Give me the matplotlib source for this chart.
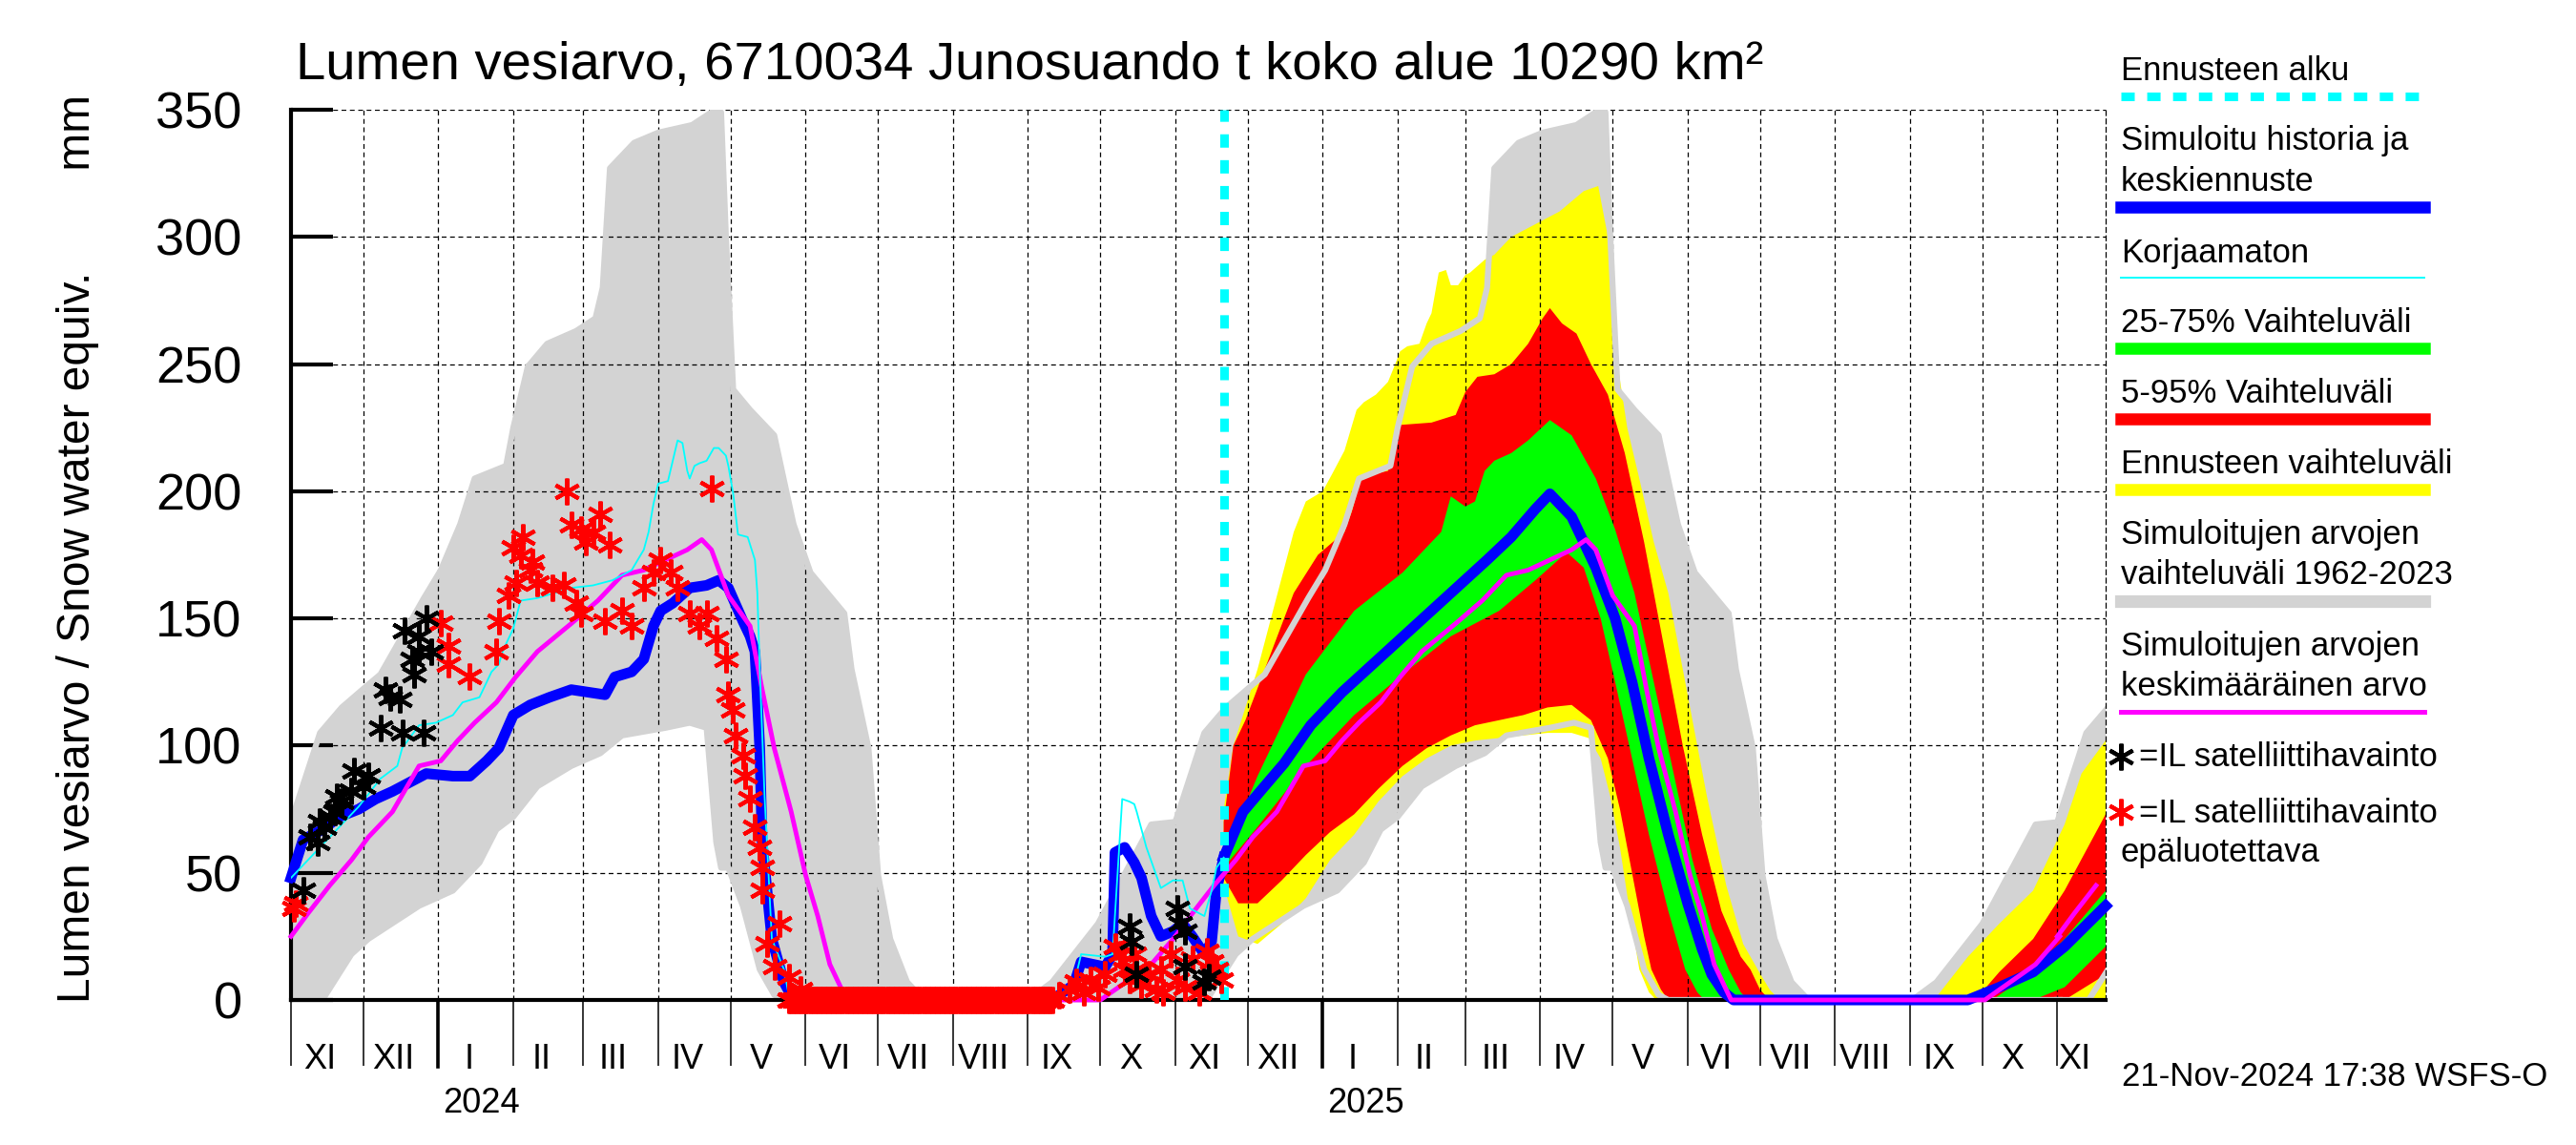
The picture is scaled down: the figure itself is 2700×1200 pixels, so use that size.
import matplotlib
matplotlib.use('Agg')
import matplotlib.pyplot as plt
import matplotlib.transforms as mtransforms
from matplotlib.lines import Line2D
import numpy as np
import pandas as pd

plt.rcParams['font.family'] = ['Liberation Sans', 'DejaVu Sans']

# all x values are days counted from 1 Nov 2023
BASE = pd.Timestamp('2023-11-01')
FC_DAY = 386          # 21 Nov 2024, forecast start
END_DAY = 751         # 21 Nov 2025

# --- climatology 1962-2023 (one season, day of season from 1 Nov) ---
clim_hi_day = [0, 12, 21, 32, 37, 55, 62, 70, 76, 89, 92, 98, 106, 118, 126, 129, 132, 142, 152,
               166, 174, 178, 180, 183, 190, 200, 205, 208, 215, 229, 232, 239, 243, 248, 255, 262,
               305, 315, 334, 356, 366]
clim_hi = [70, 105, 115, 124, 128, 158, 169, 187, 205, 210, 225, 249, 258, 263, 268, 280, 327, 337, 341,
           344, 349, 349, 300, 240, 232, 222, 200, 187, 168, 152, 130, 99, 49, 24, 7, 0,
           0, 7, 30, 69, 70]
clim_lo_day = [0, 13, 25, 32, 53, 67, 78, 85, 92, 102, 116, 128, 137, 155, 165, 172, 176, 178, 181,
               187, 194, 200, 204, 366]
clim_lo = [0, 0, 18, 24, 37, 43, 54, 67, 72, 84, 92, 97, 104, 107, 109, 107, 62, 52, 52,
           37, 12, 2, 0, 0]
mean_day = [0, 7, 16, 25, 32, 42, 53, 62, 69, 76, 85, 93, 102, 116, 127, 137, 146, 155, 164, 170,
            174, 181, 190, 195, 200, 207, 213, 218, 223, 227, 230, 335, 344, 356, 366]
mean_val = [25, 34, 45, 55, 64, 74, 92, 94, 102, 109, 117, 127, 137, 148, 157, 167, 169, 173, 177, 181,
            177, 159, 147, 122, 99, 74, 49, 33, 14, 6, 0, 0, 6, 14, 25]

# --- simulated history (blue) and uncorrected (cyan) ---
blue_day = [0, 5, 13, 20, 28, 35, 42, 50, 56, 67, 74, 81, 86, 92, 99, 107, 116, 130, 134, 141, 146,
            150, 153, 158, 165, 172, 177, 181, 187, 190, 192, 194, 195, 199, 204, 208,
            315, 324, 327, 337, 340, 341, 345, 349, 352, 356, 360, 365, 369, 373, 378, 381, 383, 386]
blue_val = [48, 63, 67, 72, 75, 79, 82, 86, 89, 88, 88, 94, 99, 112, 116, 119, 122, 120, 127, 129, 134,
            147, 153, 156, 162, 163, 165, 162, 149, 143, 137, 99, 62, 24, 7, 0,
            0, 6, 15, 13, 18, 58, 60, 54, 48, 33, 25, 27, 30, 25, 18, 23, 43, 56]
cyan_day = [0, 28, 37, 44, 46, 53, 60, 67, 71, 78, 83, 86, 88, 92, 95, 102, 109, 116, 125, 133, 141,
            146, 148, 150, 152, 156, 158, 160, 162, 164, 165, 167, 169, 172, 175, 177, 180, 181, 183,
            185, 189, 192, 193, 194, 196, 199, 204, 206, 208,
            315, 324, 327, 337, 340, 344, 347, 349, 350, 354, 357, 360, 365, 369, 372, 378, 381, 383, 386]
cyan_val = [48, 76, 87, 92, 99, 108, 109, 112, 117, 119, 129, 132, 138, 146, 157, 158, 160, 162, 163, 165, 169,
            177, 184, 195, 203, 204, 212, 220, 219, 208, 205, 210, 211, 212, 217, 217, 214, 210, 199,
            183, 182, 173, 160, 130, 80, 24, 12, 2, 0,
            0, 6, 18, 17, 18, 79, 78, 77, 74, 60, 52, 44, 47, 47, 36, 33, 43, 52, 56]

# --- forecast (from 21 Nov 2024) ---
fc_blue_day = [386, 394, 402, 411, 422, 435, 450, 465, 480, 495, 505, 515, 521, 530, 540, 548, 555,
               562, 570, 578, 584, 588, 593, 597, 694, 707, 721, 734, 751]
fc_blue = [56, 74, 83, 93, 108, 121, 134, 147, 160, 173, 182, 193, 199, 190, 170, 150, 125,
           95, 65, 38, 20, 10, 3, 0, 0, 5, 11, 21, 37]
yel_hi_day = [386, 390, 395, 400, 405, 410, 415, 420, 427, 431, 436, 441, 444, 449, 454, 457, 459, 462,
              467, 470, 472, 475, 478, 480, 483, 486, 488, 494, 498, 505, 515, 525, 535, 541, 545, 549,
              553, 558, 564, 570, 578, 586, 594, 601, 607, 612, 616, 680, 694, 707, 721, 734, 741, 751]
yel_hi = [75, 100, 115, 130, 148, 166, 184, 196, 200, 207, 216, 232, 235, 238, 243, 250, 255, 257,
          258, 266, 270, 286, 287, 281, 281, 285, 286, 291, 293, 300, 305, 310, 318, 320, 300, 250,
          225, 205, 180, 160, 120, 80, 45, 22, 12, 4, 0, 0, 17, 30, 43, 69, 89, 102]
yel_lo_day = [386, 392, 400, 410, 420, 430, 440, 450, 460, 470, 480, 490, 500, 510, 520, 530, 537,
              542, 546, 550, 554, 558, 562, 565, 751]
yel_lo = [45, 25, 22, 30, 40, 55, 65, 78, 88, 95, 100, 102, 103, 104, 105, 105, 103,
          95, 80, 60, 35, 12, 3, 0, 0]
red_hi_day = [386, 390, 395, 405, 415, 425, 436, 439, 443, 449, 454, 456, 458, 472, 482, 486, 491, 498,
              505, 512, 518, 521, 526, 532, 538, 545, 552, 560, 568, 576, 584, 592, 600, 604, 608, 612,
              697, 707, 721, 734, 751]
red_hi = [70, 100, 110, 135, 160, 175, 184, 192, 206, 207, 208, 220, 226, 227, 230, 239, 245, 246,
          250, 258, 268, 272, 266, 262, 250, 238, 215, 180, 140, 100, 65, 35, 17, 12, 4, 0,
          0, 11, 24, 43, 73]
red_lo_day = [386, 392, 400, 410, 420, 430, 440, 450, 460, 470, 480, 490, 500, 510, 520, 530, 538,
              545, 550, 555, 560, 563, 567, 570, 734, 751]
red_lo = [48, 38, 38, 47, 57, 66, 73, 83, 92, 99, 104, 108, 110, 112, 115, 116, 110,
          95, 75, 50, 25, 12, 4, 0, 0, 10]
grn_hi_day = [386, 400, 420, 440, 460, 476, 480, 486, 490, 494, 498, 505, 512, 521, 530, 540, 548,
              556, 564, 572, 580, 588, 595, 600, 603, 704, 721, 734, 751]
grn_hi = [56, 88, 128, 153, 168, 184, 198, 194, 196, 208, 212, 215, 220, 228, 222, 205, 185,
          160, 125, 90, 55, 28, 12, 3, 0, 0, 11, 24, 43]
grn_lo_day = [386, 400, 420, 440, 460, 480, 500, 515, 528, 535, 542, 548, 555, 562, 570, 577, 582,
              585, 721, 734, 751]
grn_lo = [52, 68, 92, 112, 128, 143, 153, 165, 176, 170, 150, 125, 95, 65, 35, 12, 3,
          0, 0, 5, 21]

# --- satellite observations ---
obs_day = [5, 8, 11, 12, 14, 16, 18, 19, 21, 25, 26, 30, 32, 37, 39, 41, 45, 46, 47, 50, 51, 53, 53,
           55, 56, 58, 347, 348, 350, 367, 368, 370, 370, 378, 380]
obs_val = [43, 64, 62, 70, 68, 72, 74, 80, 78, 82, 90, 84, 88, 107, 122, 119, 118, 105, 145, 134, 128,
           137, 143, 105, 150, 137, 29, 23, 10, 36, 30, 27, 13, 7, 9]
bad_day = [1, 2, 62, 65, 65, 74, 85, 86, 90, 92, 93, 95, 96, 99, 100, 102, 108, 113, 114, 116, 118,
           120, 120, 122, 125, 128, 130, 132, 137, 141, 146, 150, 153, 157, 160, 165, 169, 172, 174,
           176, 180, 181, 183, 184, 187, 188, 190, 192, 194, 195, 195, 197, 200, 202, 206, 211,
           318, 322, 325, 328, 331, 334, 337, 341, 343, 345, 347, 349, 350, 352, 355, 358, 360,
           361, 364, 367, 370, 373, 376, 379, 381, 383, 385]
bad_val = [36, 38, 148, 139, 132, 127, 137, 149, 159, 178, 164, 175, 182, 169, 172, 164, 162, 163, 200,
           187, 156, 185, 152, 180, 184, 191, 149, 179, 153, 147, 162, 168, 173, 168, 162, 152, 147, 152, 201,
           142, 134, 120, 114, 104, 96, 88, 79, 68, 60, 52, 43, 22, 13, 30, 9, 4,
           2, 4, 7, 3, 8, 5, 10, 21, 18, 12, 8, 18, 12, 6, 10, 4, 12,
           3, 18, 8, 5, 16, 3, 19, 15, 12, 8]
bad_zero_first = 206   # daily observations at 0 mm from here ...
bad_zero_last = 315    # ... to here

month_names = ['I', 'II', 'III', 'IV', 'V', 'VI', 'VII', 'VIII', 'IX', 'X', 'XI', 'XII']


def d2t(days, shift=0):
    return BASE + pd.to_timedelta(np.asarray(days, dtype=float) + shift, unit='D')


def band(ax, hi_day, hi, lo_day, lo, color, z):
    xs = np.concatenate([d2t(hi_day), d2t(lo_day[::-1])])
    ys = np.concatenate([hi, lo[::-1]])
    ax.fill(xs, ys, color=color, lw=0, zorder=z)


fig = plt.figure(figsize=(27, 12), dpi=100)
W, H = 2700, 1200
ax = fig.add_axes([305 / W, 1 - 1048 / H, (2207 - 305) / W, (1048 - 115) / H])

# climatology repeated for each season shown
for shift in [0, 366, 731]:
    xs = np.concatenate([d2t(clim_hi_day, shift), d2t(clim_lo_day[::-1], shift)])
    ys = np.concatenate([clim_hi, clim_lo[::-1]])
    ax.fill(xs, ys, color='#d3d3d3', lw=0, zorder=1)

band(ax, yel_hi_day, yel_hi, yel_lo_day, yel_lo, '#ffff00', 1.2)
band(ax, red_hi_day, red_hi, red_lo_day, red_lo, '#ff0000', 1.4)
band(ax, grn_hi_day, grn_hi, grn_lo_day, grn_lo, '#00ff00', 1.6)

for shift in [0, 366, 731]:
    ax.plot(d2t(clim_hi_day, shift), clim_hi, color='#d3d3d3', lw=4.5, zorder=1.8)
    ax.plot(d2t(clim_lo_day, shift), clim_lo, color='#d3d3d3', lw=4.5, zorder=1.8)

ax.plot(d2t(blue_day), blue_val, color='#0000ff', lw=8, zorder=3, clip_on=False,
        solid_joinstyle='round')
ax.plot(d2t(fc_blue_day), fc_blue, color='#0000ff', lw=8, zorder=3, clip_on=False,
        solid_joinstyle='round')
for shift in [0, 366, 731]:
    mx = d2t(mean_day, shift)
    ok = mx <= d2t([END_DAY])[0]
    ax.plot(mx[ok], np.asarray(mean_val)[ok], color='#ff00ff', lw=3.5, zorder=3.2, clip_on=False)
ax.plot(d2t(cyan_day), cyan_val, color='#00ffff', lw=1.3, zorder=3.4)

ax.axvline(d2t([FC_DAY])[0], color='#00ffff', lw=6.5, dashes=(1.55, 1.45), zorder=3.5)

star = (6, 2, 0)
zero_days = np.arange(bad_zero_first, bad_zero_last + 1)
ax.plot(d2t(zero_days), np.zeros(len(zero_days)), ls='none', marker=star, ms=20, mew=3,
        color='#ff0000', zorder=4, clip_on=False)
ax.plot(d2t(bad_day), bad_val, ls='none', marker=star, ms=20, mew=3, color='#ff0000',
        zorder=4, clip_on=False)
ax.plot(d2t(obs_day), obs_val, ls='none', marker=star, ms=20, mew=3, color='black',
        zorder=4.2, clip_on=False)

# axes
ax.set_xlim(d2t([0])[0], d2t([END_DAY])[0])
ax.set_ylim(0, 350)
ax.set_yticks(np.arange(0, 351, 50))
ax.tick_params(axis='y', direction='in', length=32, width=3, labelsize=39, pad=37)
month_starts = pd.date_range('2023-11-01', '2025-11-21', freq='MS')
ax.set_xticks(month_starts)
ax.tick_params(axis='x', which='major', direction='out', length=50, width=1.1, labelbottom=False)
ax.grid(True, color='black', ls=(0, (4, 3)), lw=0.9)
ax.spines['top'].set_visible(False)
ax.spines['right'].set_linestyle((0, (4, 3)))
ax.spines['right'].set_linewidth(0.9)
ax.spines['left'].set_linewidth(3)
ax.spines['bottom'].set_linewidth(3)

trans = mtransforms.blended_transform_factory(ax.transData, ax.transAxes)
x_end = d2t([END_DAY])[0]
for ms in month_starts:
    me = min(ms + pd.offsets.MonthBegin(1), x_end)
    mid = ms + (me - ms) / 2 - pd.Timedelta(days=3)
    ax.text(mid, -0.0772, month_names[ms.month - 1], transform=trans, ha='center',
            va='baseline', fontsize=26)
    if ms.month == 1:
        ax.plot([ms, ms], [0, -0.075], transform=trans, color='black', lw=2.6, clip_on=False)
        ax.text(ms + pd.Timedelta(days=2), -0.1265, str(ms.year), transform=trans, ha='left',
                va='baseline', fontsize=26)

fig.text(310 / W, 1 - 83 / H, 'Lumen vesiarvo, 6710034 Junosuando t koko alue 10290 km²',
         fontsize=40.5, va='baseline')
fig.text(82 / W, 1 - 575 / H, 'Lumen vesiarvo / Snow water equiv.        mm', rotation=90,
         fontsize=34.5, ha='center', va='center')
fig.text(2224 / W, 1 - 1128 / H, '21-Nov-2024 17:38 WSFS-O', fontsize=25, va='center')

# legend drawn by hand at the right
LX0, LX1 = 2223, 2541


def ltext(y, s, x=LX0):
    fig.text(x / W, 1 - y / H, s, fontsize=25, va='baseline')


def lline(y, **kw):
    fig.add_artist(Line2D([LX0 / W, LX1 / W], [1 - y / H, 1 - y / H], **kw))


ltext(84, 'Ennusteen alku')
lline(101, color='#00ffff', lw=6.5, dashes=(1.55, 1.45))
ltext(157, 'Simuloitu historia ja')
ltext(200, 'keskiennuste')
lline(217, color='#0000ff', lw=9)
ltext(275, 'Korjaamaton')
lline(291, color='#00ffff', lw=1.4)
ltext(348, '25-75% Vaihteluväli')
lline(365, color='#00ff00', lw=9)
ltext(422, '5-95% Vaihteluväli')
lline(439, color='#ff0000', lw=9)
ltext(496, 'Ennusteen vaihteluväli')
lline(513, color='#ffff00', lw=9)
ltext(570, 'Simuloitujen arvojen')
ltext(612, 'vaihteluväli 1962-2023')
lline(630, color='#d3d3d3', lw=9.5)
ltext(687, 'Simuloitujen arvojen')
ltext(729, 'keskimääräinen arvo')
lline(746, color='#ff00ff', lw=3.6)
fig.add_artist(Line2D([2223 / W], [1 - 793 / H], marker=star, ms=20, mew=3, color='black'))
ltext(803, '=IL satelliittihavainto', x=2242)
fig.add_artist(Line2D([2223 / W], [1 - 851 / H], marker=star, ms=20, mew=3, color='#ff0000'))
ltext(862, '=IL satelliittihavainto', x=2242)
ltext(903, 'epäluotettava')

fig.savefig('out.png', dpi=100)
